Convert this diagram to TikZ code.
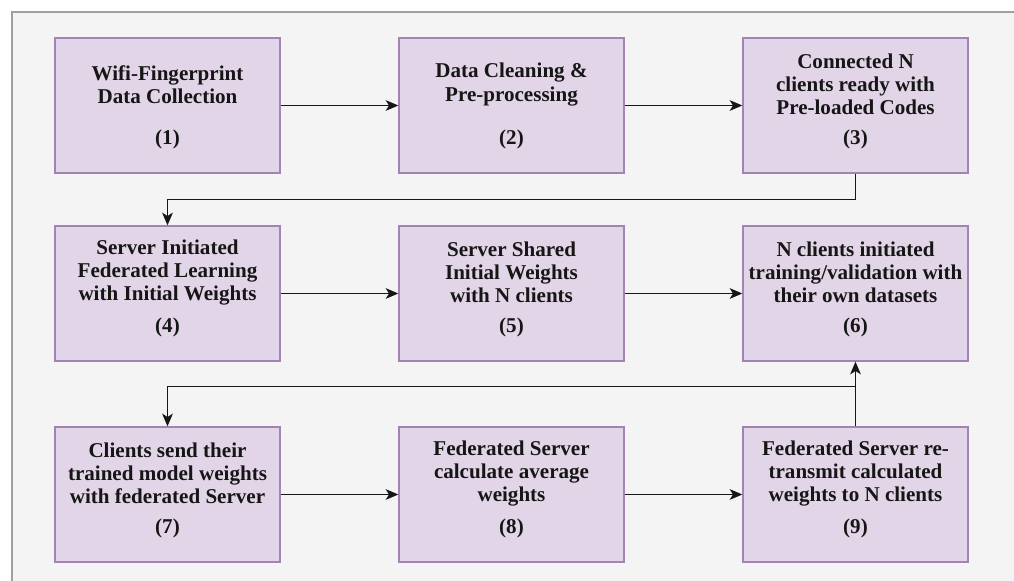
\documentclass[tikz,border=0pt]{standalone}
\usepackage{fontspec}
\setmainfont{Liberation Serif}
\usetikzlibrary{arrows.meta,positioning,calc}

\definecolor{boxfill}{HTML}{E1D5E7}
\definecolor{boxline}{HTML}{A383B3}
\definecolor{canvas}{HTML}{F4F4F4}
\definecolor{frameline}{HTML}{A0A0A0}
\definecolor{ink}{HTML}{161616}

\begin{document}
\begin{tikzpicture}[
    x=0.75pt, y=-0.75pt,
    stepbox/.style={draw=boxline, fill=boxfill, line width=1pt, minimum width=168.75pt, minimum height=101.25pt, inner sep=0pt},
    title/.style={font=\fontsize{15.8}{17.3}\selectfont\bfseries, align=center, text=ink, inner sep=0pt},
    num/.style={font=\fontsize{15.8}{17.3}\selectfont\bfseries, text=ink, inner sep=0pt},
    arrow/.style={-{Stealth[length=9.5pt, width=8pt, inset=2.5pt]}, line width=1.1pt, draw=ink}
]

% --- canvas and frame ---
\useasboundingbox (0,0) rectangle (1014,581);
\fill[white] (0,0) rectangle (1014,581);
\fill[canvas] (12,12) rectangle (1014,581);
\draw[frameline, line width=0.9pt] (1014,12) -- (12,12) -- (12,581);

% --- row 1 ---
\node[stepbox] (n1) at (167.5,105.5) {};
\node[stepbox] (n2) at (511.5,105.5) {};
\node[stepbox] (n3) at (855.5,105.5) {};
\node[title] (t1) at ([yshift=15.75pt]n1.center) {Wifi-Fingerprint\\Data Collection};
\node[title] (t2) at ([yshift=15.75pt]n2.center) {Data Cleaning \&\\Pre-processing};
\node[title] (t3) at ([yshift=15.75pt]n3.center) {Connected N\\clients ready with\\Pre-loaded Codes};
\node[num] (c1) at ([yshift=-25.5pt]n1.center) {(1)};
\node[num] (c2) at ([yshift=-25.5pt]n2.center) {(2)};
\node[num] (c3) at ([yshift=-25.5pt]n3.center) {(3)};

% --- row 2 ---
\node[stepbox] (n4) at (167.5,293.5) {};
\node[stepbox] (n5) at (511.5,293.5) {};
\node[stepbox] (n6) at (855.5,293.5) {};
\node[title] (t4) at ([yshift=15.75pt]n4.center) {Server Initiated\\Federated Learning\\with Initial Weights};
\node[title] (t5) at ([yshift=15.75pt]n5.center) {Server Shared\\Initial Weights\\with N clients};
\node[title] (t6) at ([yshift=15.75pt]n6.center) {N clients initiated\\training/validation with\\their own datasets};
\node[num] (c4) at ([yshift=-25.5pt]n4.center) {(4)};
\node[num] (c5) at ([yshift=-25.5pt]n5.center) {(5)};
\node[num] (c6) at ([yshift=-25.5pt]n6.center) {(6)};

% --- row 3 ---
\node[stepbox] (n7) at (167.5,494.5) {};
\node[stepbox] (n8) at (511.5,494.5) {};
\node[stepbox] (n9) at (855.5,494.5) {};
\node[title] (t7) at ([yshift=15.75pt]n7.center) {Clients send their\\trained model weights\\with federated Server};
\node[title] (t8) at ([yshift=15.75pt]n8.center) {Federated Server\\calculate average\\weights};
\node[title] (t9) at ([yshift=15.75pt]n9.center) {Federated Server re-\\transmit calculated\\weights to N clients};
\node[num] (c7) at ([yshift=-25.5pt]n7.center) {(7)};
\node[num] (c8) at ([yshift=-25.5pt]n8.center) {(8)};
\node[num] (c9) at ([yshift=-25.5pt]n9.center) {(9)};

% --- connectors ---
\coordinate (bend34) at ($(n3.south)+(0,26)$);
\coordinate (split) at ($(n9.north)+(0,-40)$);

\draw[arrow] (n1) -- (n2);
\draw[arrow] (n2) -- (n3);
\draw[arrow] (n3.south) -- (bend34) -| (n4.north);
\draw[arrow] (n4) -- (n5);
\draw[arrow] (n5) -- (n6);
\draw[arrow] (n7) -- (n8);
\draw[arrow] (n8) -- (n9);
\draw[arrow] (n9) -- (n6);
\draw[arrow] (split) -| (n7.north);

\end{tikzpicture}
\end{document}
